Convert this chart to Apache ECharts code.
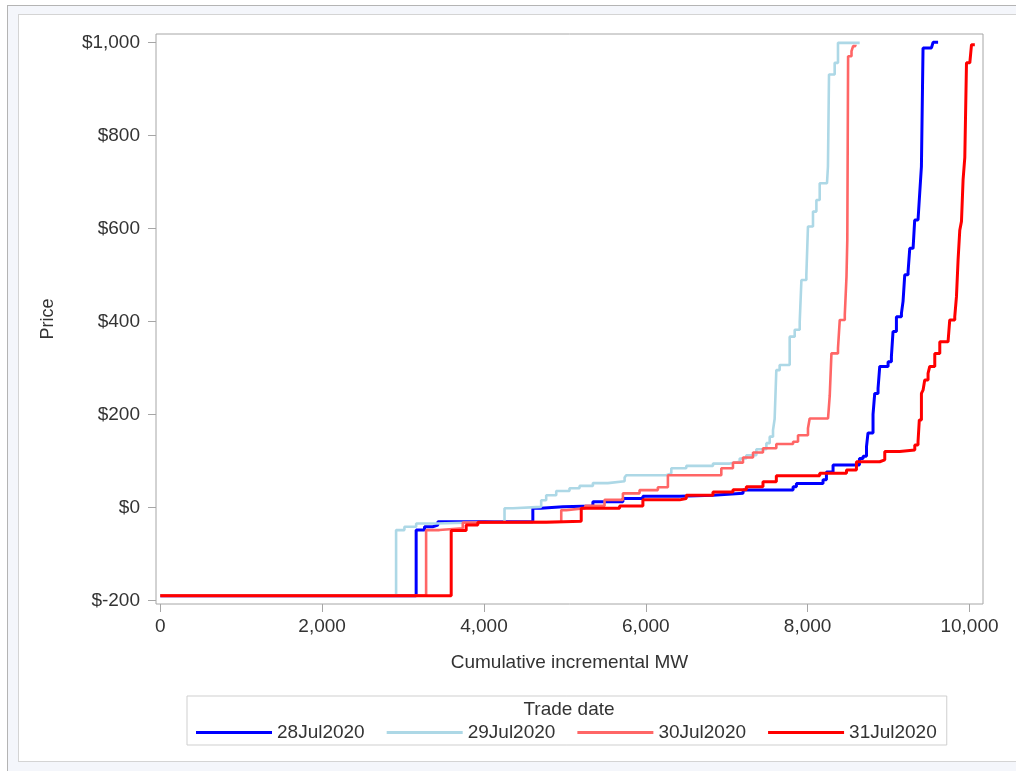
<!DOCTYPE html>
<html><head><meta charset="utf-8">
<script src="https://cdn.jsdelivr.net/npm/echarts@6/dist/echarts.min.js"></script>
<style>
html,body{margin:0;padding:0;width:1016px;height:771px;overflow:hidden;background:#fff;}
#outer{position:absolute;left:7px;top:5px;width:1030px;height:800px;border:1px solid #b4b4b4;background:#f4f6fb;}
#inner{position:absolute;left:18px;top:14px;width:1020px;height:746px;border:1px solid #d4d4d4;background:#fff;}
#chart{position:absolute;left:0;top:0;width:1016px;height:771px;}
</style></head><body>
<div id="outer"></div><div id="inner"></div><div id="chart"></div>
<script>
var seriesNames = ['28Jul2020','29Jul2020','30Jul2020','31Jul2020'];
var seriesColors = ['#0000ff','#add8e6','#ff6666','#ff0000'];
var xTicks = [0,2000,4000,6000,8000,10000];
var yTicks = [-200,0,200,400,600,800,1000];

var mw28 = [0,3162,3265,3365,3430,4604,4700,4975,5346,5717,5964,6418,6830,7202,7820,7861,8190,8232,8314,8640,8685,8727,8746,8808,8829,8870,8891,8994,9035,9055,9097,9159,9179,9200,9241,9262,9303,9323,9364,9385,9406,9426,9530,9550,9612];
var p28 = [-190,-49,-42,-38,-31,-2,1,3,12,19,24,26,30,37,44,51,59,76,91,105,110,130,160,200,245,256,303,313,324,378,410,417,443,500,507,557,561,618,622,676,733,988,992,1000,1000];

var mw29 = [0,2914,3017,3162,3409,4254,4357,4707,4769,4893,5057,5181,5346,5531,5738,5758,6253,6315,6500,6830,7036,7160,7242,7366,7490,7531,7572,7592,7613,7654,7778,7840,7902,7923,7984,8004,8066,8108,8149,8239,8251,8264,8334,8375,8643];
var p29 = [-190,-49,-42,-35,-31,-2,1,15,26,35,41,46,52,56,64,69,73,84,89,94,98,105,112,125,138,152,166,190,295,306,367,382,399,489,500,604,636,661,697,701,733,931,956,999,1000];

var mw30 = [0,3285,3450,3738,3904,4955,5017,5250,5490,5717,5923,6149,6273,6933,7077,7201,7325,7448,7613,7820,7881,8004,8025,8252,8273,8294,8375,8397,8459,8480,8490,8500,8542,8562,8590];
var p30 = [-190,-49,-45,-33,-31,-6,-2,3,16,30,37,43,69,84,96,107,118,127,136,141,155,170,191,195,240,331,342,403,414,496,575,970,981,992,995];

var mw31 = [0,3595,3780,3924,4769,5202,5676,5964,6418,6500,6830,7077,7242,7448,7613,8149,8480,8603,8891,8953,9138,9324,9364,9380,9406,9426,9447,9488,9509,9571,9633,9735,9756,9818,9839,9859,9880,9901,9921,9942,9963,10004,10025,10066];
var p31 = [-190,-50,-38,-32,-30,-2,3,16,19,26,33,38,44,55,68,73,80,98,102,120,123,134,141,188,245,252,274,288,303,331,356,360,403,410,453,532,596,615,705,752,956,960,995,995];

function zip(a,b){return a.map(function(v,i){return [v,b[i]];});}
var allX = [mw28,mw29,mw30,mw31];
var allY = [p28,p29,p30,p31];
var widths = [3,2.6,2.6,3];

var FONT = "'Liberation Sans', Arial, sans-serif";
var chart = echarts.init(document.getElementById('chart'), null, {renderer:'canvas'});
chart.setOption({
  animation:false,
  backgroundColor:'transparent',
  grid:{left:156,top:34,right:33,bottom:167,show:true,borderColor:'#a6a6a6',borderWidth:1,backgroundColor:'transparent'},
  xAxis:{type:'value',min:-53,max:10167,position:'bottom',
    name:'Cumulative incremental MW',nameLocation:'middle',nameGap:49,
    nameTextStyle:{fontSize:19,color:'#333',fontFamily:FONT},
    axisLine:{show:false,onZero:false},
    axisTick:{show:true,inside:false,length:8,lineStyle:{color:'#a6a6a6'},customValues:xTicks},
    axisLabel:{fontSize:19,color:'#333',fontFamily:FONT,margin:13,customValues:xTicks,
      formatter:function(v){return v.toLocaleString('en-US');}},
    splitLine:{show:false}},
  yAxis:{type:'value',min:-208,max:1018,position:'left',
    name:'Price',nameLocation:'middle',nameGap:99,
    nameTextStyle:{fontSize:18,color:'#333',fontFamily:FONT},
    axisLine:{show:false,onZero:false},
    axisTick:{show:true,inside:false,length:8,lineStyle:{color:'#a6a6a6'},customValues:yTicks},
    axisLabel:{fontSize:19,color:'#333',fontFamily:FONT,margin:16,customValues:yTicks,
      formatter:function(v){return '$'+v.toLocaleString('en-US');}},
    splitLine:{show:false}},
  legend:{left:187,top:696,padding:[27,10,3,9],borderColor:'#cfcfcf',borderWidth:1,
    itemWidth:76,itemHeight:3,itemGap:22,icon:'rect',
    textStyle:{fontSize:19,color:'#333',fontFamily:FONT},
    data:seriesNames},
  graphic:[{type:'text',x:569,y:710,style:{text:'Trade date',align:'center',verticalAlign:'middle',
    fontSize:19,fill:'#333',fontFamily:FONT}}],
  series:seriesNames.map(function(n,i){
    return {name:n,type:'line',step:'end',showSymbol:false,symbol:'none',
      data:zip(allX[i],allY[i]),color:seriesColors[i],
      lineStyle:{color:seriesColors[i],width:widths[i]},
      itemStyle:{color:seriesColors[i]},z:2+i};
  })
});
</script></body></html>
